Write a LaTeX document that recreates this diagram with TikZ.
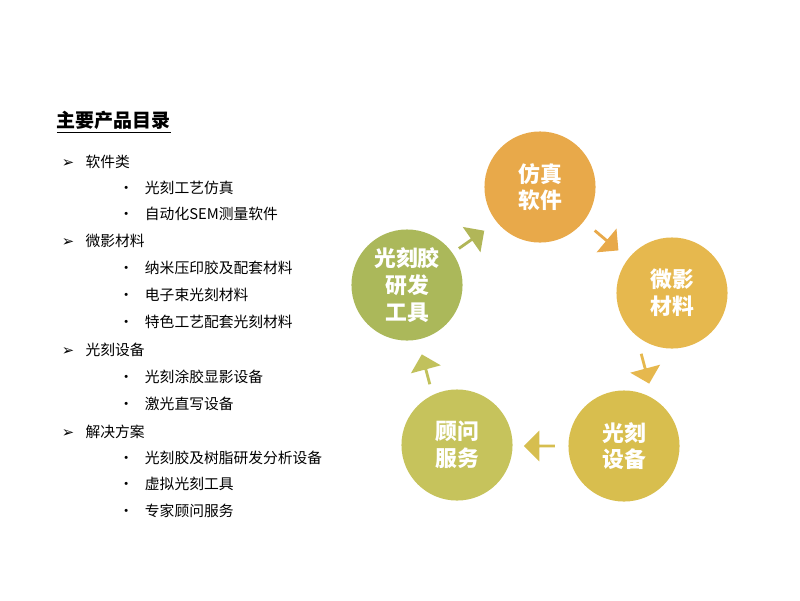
\documentclass[tikz,border=0pt]{standalone}
\usepackage{fontspec}
\setmainfont{Noto Sans CJK SC}
\newfontfamily\symfont{DejaVu Sans}
\usetikzlibrary{shapes.arrows}
\definecolor{cA}{HTML}{E8A94A}
\definecolor{cB}{HTML}{E6B84E}
\definecolor{cC}{HTML}{D8BE4E}
\definecolor{cD}{HTML}{C6C35C}
\definecolor{cE}{HTML}{ABB85A}
\tikzset{
  ring/.style={circle,minimum size=79pt,text=white,font=\fontsize{15.5}{19}\selectfont\bfseries,align=center,inner sep=0pt},
  blk/.style={single arrow,minimum height=22pt,minimum width=22pt,single arrow head extend=2pt,inner sep=0pt},
  head/.style={anchor=west,font=\fontsize{10.5}{12}\selectfont},
  sub/.style={anchor=west,font=\fontsize{10.5}{12}\selectfont}
}
\begin{document}
\begin{tikzpicture}[x=0.025cm,y=-0.025cm]
\useasboundingbox (0,0) rectangle (800,600);
% title
\node[anchor=west,font=\fontsize{13.5}{15}\selectfont\bfseries] (title) at (52,122) {\underline{主要产品目录}};
% list
\foreach \y/\t/\k in {162/软件类/0,188/光刻工艺仿真/1,214/自动化SEM测量软件/1,241/微影材料/0,268/纳米压印胶及配套材料/1,295/电子束光刻材料/1,322/特色工艺配套光刻材料/1,350/光刻设备/0,377/光刻涂胶显影设备/1,404/激光直写设备/1,432/解决方案/0,458/光刻胶及树脂研发分析设备/1,484/虚拟光刻工具/1,511/专家顾问服务/1}{
  \ifnum\k=0
    \node[head] (h\y) at (57,\y) {{\symfont\fontsize{10.5}{10}\selectfont ➢}\hspace{8pt}\t};
  \else
    \node[sub] (s\y) at (114,\y) {•\hspace{8pt}\t};
  \fi
}
% circles
\node[ring,fill=cA] (sim) at (540,187) {仿真\\软件};
\node[ring,fill=cB] (mat) at (672,293) {微影\\材料};
\node[ring,fill=cC] (equ) at (624,446) {光刻\\设备};
\node[ring,fill=cD] (srv) at (457,445) {顾问\\服务};
\node[ring,fill=cE] (dev) at (407,285) {光刻胶\\研发\\工具};
% arrows
\node[blk,fill=cE!90!cA,rotate=35] (a1) at (471,240) {};
\node[blk,fill=cA,rotate=-40] (a2) at (606,240) {};
\node[blk,fill=cB,rotate=-75] (a3) at (645,368) {};
\node[blk,fill=cC!90!cD,rotate=180] (a4) at (540,446) {};
\node[blk,fill=cD!80!cE,rotate=105] (a5) at (426,370) {};
\end{tikzpicture}
\end{document}
